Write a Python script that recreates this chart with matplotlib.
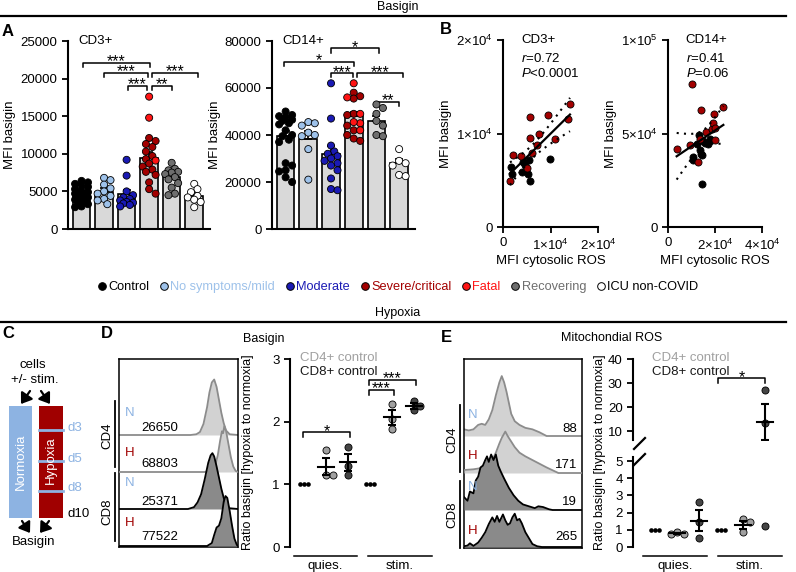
import numpy as np
import matplotlib
matplotlib.use('Agg')
import matplotlib.pyplot as plt
from matplotlib.lines import Line2D
from matplotlib.patches import Rectangle, FancyArrowPatch

plt.rcParams.update({
    'font.family': ['Liberation Sans', 'DejaVu Sans'],
    'font.size': 9,
    'mathtext.fontset': 'custom',
    'mathtext.rm': 'Liberation Sans',
    'mathtext.it': 'Liberation Sans:italic',
    'axes.linewidth': 1.5,
    'xtick.major.width': 1.3, 'ytick.major.width': 1.3,
    'xtick.major.size': 4, 'ytick.major.size': 4,
    'xtick.labelsize': 9.5, 'ytick.labelsize': 9.5,
})

# ---------------- data ----------------
group_names = ['Control', 'No symptoms/mild', 'Moderate', 'Severe/critical', 'Fatal', 'Recovering', 'ICU non-COVID']
group_colors = ['#000000', '#9ec2ea', '#1a1ab4', '#a30000', '#ff1414', '#6e6e6e', '#ffffff']
legend_text_colors = ['#000000', '#9ec2ea', '#1a1ab4', '#a30000', '#ff1414', '#6e6e6e', '#000000']

# Panel A, CD3+
cd3_control = [6400, 6200, 6000, 5800, 5600, 5300, 5100, 4900, 4700, 4600, 4400, 4200, 4100, 3900, 3700, 3500, 3300, 3000, 2900]
cd3_mild = [6800, 6500, 5900, 5400, 5000, 4700, 4400, 4000, 3800, 3300]
cd3_moderate = [9200, 7100, 5000, 4500, 4200, 4000, 3800, 3600, 3500, 3400, 3200, 3000]
cd3_severe = [12100, 11700, 11300, 10900, 10300, 9700, 9300, 8700, 8300, 7900, 7600, 7200, 6200, 5300, 4700]
cd3_fatal = [17600, 14800, 9100]
cd3_recovering = [8800, 8000, 7800, 7600, 7500, 7300, 6900, 6600, 6100, 5500, 4700, 4500]
cd3_icu = [6000, 5300, 4900, 4400, 4200, 3900, 3600, 2900]
cd3_bar_mean = [4650, 4950, 4600, 9400, 6900, 4400]
cd3_bar_sem = [250, 450, 600, 850, 400, 400]
cd3_sig = [(0.05, 3.05, 22100, '***'), (1.0, 2.97, 20800, '***'), (2.05, 2.92, 19000, '***'),
           (3.12, 4.0, 19000, '**'), (3.12, 5.15, 20800, '***')]

# Panel A, CD14+
cd14_control = [50000, 48500, 48000, 47500, 46500, 46000, 45000, 44500, 42000, 40000, 39500, 38000, 37000,
                28000, 27000, 25000, 24500, 22000, 20000]
cd14_mild = [45500, 45000, 44000, 41000, 40000, 39500, 34000, 21000]
cd14_moderate = [62000, 47000, 35500, 33000, 32000, 31000, 30000, 29000, 28000, 27000, 25000, 21500, 17000, 16500]
cd14_severe = [58000, 56500, 55500, 49000, 48500, 44000, 42000, 40000, 38500, 37500]
cd14_fatal = [62000, 56000, 49000, 45000, 42000, 45500]
cd14_recovering = [53000, 51500, 49000, 46000, 44000, 40000, 39500]
cd14_icu = [34000, 29000, 28000, 27000, 23000, 22500]
cd14_bar_mean = [39500, 38500, 31800, 48000, 46000, 28000]
cd14_bar_sem = [2000, 3000, 3500, 1800, 2200, 1600]
cd14_sig = [(-0.06, 3.0, 71200, '*'), (2.0, 4.1, 76900, '*'), (2.0, 2.97, 66300, '***'),
            (3.15, 5.16, 66300, '***'), (4.03, 5.0, 54200, '**')]

# Panel B, CD3+: cytosolic ROS vs basigin
b3_ros_control = [1680, 1960, 3930, 4140, 5470, 5190, 5680, 9890, 4630]
b3_bsg_control = [6420, 5710, 5890, 6950, 7130, 5710, 4900, 7270, 6600]
b3_ros_severe = [1470, 2180, 3720, 5120, 5680, 5680, 6040, 7230, 7650, 9540, 10950, 13750, 14100]
b3_bsg_severe = [4940, 7720, 7620, 6310, 11780, 9490, 7940, 8820, 9910, 12030, 9420, 11530, 13120]
# Panel B, CD14+
b14_ros_control = [10780, 12200, 13620, 13900, 14330, 15040, 15740, 17160, 17870, 14330, 10780, 13330]
b14_bsg_control = [37390, 44440, 40920, 39150, 38270, 46210, 44800, 44440, 47090, 22930, 35630, 49210]
b14_ros_severe = [3690, 10070, 9360, 13900, 12620, 16170, 13620, 18580, 19290, 19570, 20000, 23550, 20000]
b14_bsg_severe = [41800, 76540, 43920, 62430, 34740, 50620, 47090, 52380, 55380, 60670, 52730, 64370, 46560]

# Panel D: histograms (fluorescence 0-100 across box, normalised counts)
d_cd4_n_x = [0, 60, 65, 68, 71, 74, 76, 78, 80, 82, 84, 86, 88, 90, 93, 100]
d_cd4_n_h = [0, 0, 0.02, 0.08, 0.3, 0.75, 1.15, 1.42, 1.5, 1.3, 0.95, 0.6, 0.32, 0.12, 0.02, 0]
d_cd4_h_x = [0, 72, 78, 81, 83, 85, 86.5, 87.5, 88.5, 90, 92, 94, 96, 98, 100]
d_cd4_h_h = [0, 0, 0.05, 0.2, 0.45, 0.85, 1.1, 1.05, 1.24, 1.1, 0.75, 0.4, 0.15, 0.03, 0]
d_cd8_n_x = [0, 58, 63, 66, 69, 72, 75, 77, 78.5, 80, 82, 84, 86, 88, 90, 93, 100]
d_cd8_n_h = [0, 0, 0.05, 0.18, 0.4, 0.8, 1.25, 1.45, 1.51, 1.42, 1.15, 0.85, 0.55, 0.3, 0.12, 0.02, 0]
d_cd8_h_x = [0, 74, 78, 80, 82, 84, 86, 88, 89.5, 91, 93, 95, 97, 99, 100]
d_cd8_h_h = [0, 0, 0.08, 0.3, 0.5, 0.55, 0.75, 1.2, 1.35, 1.3, 0.95, 0.55, 0.2, 0.03, 0]
d_mfi = ['26650', '68803', '25371', '77522']

# Panel D: ratio basigin
d_control = [1, 1, 1]
d_cd4_quies = [1.55, 1.15, 1.15]
d_cd8_quies = [1.6, 1.3, 1.15]
d_cd4_stim = [2.28, 2.04, 1.88]
d_cd8_stim = [2.33, 2.25, 2.18]

# Panel E: histograms
e_cd4_n_x = [0, 4, 8, 12, 15, 18, 21, 24, 27, 30, 32, 34, 36, 38, 40, 43, 47, 52, 58, 64, 70, 100]
e_cd4_n_h = [0.18, 0.15, 0.18, 0.3, 0.33, 0.3, 0.45, 0.7, 1.1, 1.45, 1.62, 1.45, 1.2, 0.9, 0.6, 0.4, 0.3, 0.22, 0.18, 0.1, 0, 0]
e_cd4_h_x = [0, 8, 14, 20, 24, 27, 30, 32, 35, 37, 40, 43, 47, 52, 58, 64, 70, 76, 80, 100]
e_cd4_h_h = [0.08, 0.1, 0.13, 0.2, 0.35, 0.55, 0.8, 0.95, 1.12, 1.0, 0.85, 0.7, 0.55, 0.45, 0.35, 0.25, 0.15, 0.06, 0, 0]
e_cd8_n_x = [0, 3, 5, 8, 10, 12, 14, 16, 18, 19.5, 21, 23, 25, 27, 29, 31, 34, 38, 42, 46, 50, 55, 60, 63, 67, 72, 75, 100]
e_cd8_n_h = [0.35, 0.25, 0.5, 0.45, 0.8, 0.9, 1.15, 1.2, 1.35, 1.45, 1.3, 1.5, 1.35, 1.5, 1.2, 1.05, 0.85, 0.6,
             0.4, 0.25, 0.15, 0.1, 0.05, 0.1, 0.08, 0.02, 0, 0]
e_cd8_h_x = [0, 3, 5, 8, 12, 15, 18, 21, 24, 26, 28, 30, 33, 35, 37, 39, 41, 43, 45, 47, 49, 52, 55, 58, 62, 66, 100]
e_cd8_h_h = [0.02, 0.04, 0.1, 0.03, 0.12, 0.25, 0.4, 0.62, 0.8, 0.68, 0.84, 0.68, 0.88, 0.72, 0.6, 0.64, 0.8,
             0.9, 0.72, 0.76, 0.64, 0.4, 0.24, 0.08, 0.02, 0, 0]
e_mfi = ['88', '171', '19', '265']

# Panel E: ratio mitochondrial ROS
e_control = [1, 1, 1]
e_cd4_quies = [0.85, 0.76, 0.76]
e_cd8_quies = [2.6, 1.45, 0.5]
e_cd4_stim = [1.62, 1.45, 0.85]
e_cd8_stim = [27.0, 13.5, 1.2]

# ---------------- helpers ----------------
W, H = 796, 572
fig = plt.figure(figsize=(W / 100, H / 100), dpi=100)


def fbox(l, t, r, b):
    return [l / W, 1 - b / H, (r - l) / W, (b - t) / H]


def ft(x, y, s, **kw):
    kw.setdefault('ha', 'center')
    kw.setdefault('va', 'center')
    return fig.text(x / W, 1 - y / H, s, **kw)


def fline(xs, ys, **kw):
    fig.add_artist(Line2D([x / W for x in xs], [1 - y / H for y in ys], transform=fig.transFigure, **kw))


def farrow(x1, y1, x2, y2):
    fig.add_artist(FancyArrowPatch((x1 / W, 1 - y1 / H), (x2 / W, 1 - y2 / H), transform=fig.transFigure,
                                   arrowstyle='-|>,head_length=0.5,head_width=0.35', mutation_scale=12,
                                   lw=1.6, color='k', shrinkA=0, shrinkB=0))


def swarm(vals, ppy, ppx, d=6.5, maxoff=8.0):
    vals = np.asarray(vals, float)
    order = np.argsort(-vals, kind='stable')
    cands = [0.0]
    for k in range(1, 8):
        cands += [k * d * 0.5, -k * d * 0.5]
    cands = [c for c in cands if abs(c) <= maxoff]
    placed = []
    offs = np.zeros(len(vals))
    for i in order:
        y = vals[i] * ppy
        best, bestd = cands[0], -1
        for c in cands:
            md = min([np.hypot(c - px, y - py) for px, py in placed] + [1e9])
            if md >= d * 0.95:
                best = c
                break
            if md > bestd:
                best, bestd = c, md
        placed.append((best, y))
        offs[i] = best / ppx
    return offs


def bracket(ax, x1, x2, y, h, text, fs=11.5):
    ax.plot([x1, x1, x2, x2], [y - h, y, y, y - h], color='k', lw=1.1, clip_on=False)
    ax.annotate(text, ((x1 + x2) / 2, y), xytext=(0, -2.5), textcoords='offset points',
                ha='center', va='baseline', fontsize=fs, annotation_clip=False)


# ---------------- headers ----------------
ft(398, 7, 'Basigin', fontsize=9)
fline([0, 786], [16, 16], color='k', lw=1.6)
ft(398, 313, 'Hypoxia', fontsize=9)
fline([0, 786], [322, 322], color='k', lw=1.6)
for lab, x, y in [('A', 8, 31), ('B', 446, 30), ('C', 8, 334), ('D', 107, 334), ('E', 446, 337)]:
    ft(x, y, lab, fontsize=12, fontweight='bold')


# ---------------- panel A ----------------
def bar_panel(l, r, groups, means, sems, ymax, yticks, title, sig, hook):
    t, b = 41, 229
    ax = fig.add_axes(fbox(l, t, r, b))
    n = len(means)
    x = np.arange(n)
    ax.bar(x, means, width=0.78, color='#d9d9d9', edgecolor='k', linewidth=1.2, zorder=1)
    ax.errorbar(x, means, yerr=[np.zeros(n), sems], fmt='none', ecolor='k', elinewidth=1.2,
                capsize=3, capthick=1.2, zorder=2)
    ppy = (b - t) / ymax
    for i, grp in enumerate(groups):
        vals = np.concatenate([np.asarray(v, float) for v, c in grp])
        cols = sum([[c] * len(v) for v, c in grp], [])
        offs = swarm(vals, ppy, 22.7, maxoff=7.5)
        ax.scatter(i + offs, vals, s=26, c=cols, edgecolors='k', linewidths=0.6, zorder=3, clip_on=False)
    ax.set_xlim(-0.6, 5.7)
    ax.set_ylim(0, ymax)
    ax.set_yticks(yticks)
    ax.set_yticklabels([str(v) for v in yticks])
    ax.tick_params(axis='x', length=0, labelbottom=False)
    for s in ['top', 'right']:
        ax.spines[s].set_visible(False)
    ax.set_ylabel('MFI basigin', fontsize=9.5, labelpad=3)
    ax.text(0.07, 1.0, title, transform=ax.transAxes, ha='left', va='center', fontsize=9.5)
    for x1, x2, y, s in sig:
        bracket(ax, x1, x2, y, hook, s)
    return ax


bar_panel(68, 210,
          [[(cd3_control, group_colors[0])], [(cd3_mild, group_colors[1])], [(cd3_moderate, group_colors[2])],
           [(cd3_severe, group_colors[3]), (cd3_fatal, group_colors[4])], [(cd3_recovering, group_colors[5])],
           [(cd3_icu, group_colors[6])]],
          cd3_bar_mean, cd3_bar_sem, 25000, [0, 5000, 10000, 15000, 20000, 25000], 'CD3+', cd3_sig, 550)
bar_panel(272, 415,
          [[(cd14_control, group_colors[0])], [(cd14_mild, group_colors[1])], [(cd14_moderate, group_colors[2])],
           [(cd14_severe, group_colors[3]), (cd14_fatal, group_colors[4])], [(cd14_recovering, group_colors[5])],
           [(cd14_icu, group_colors[6])]],
          cd14_bar_mean, cd14_bar_sem, 80000, [0, 20000, 40000, 60000, 80000], 'CD14+', cd14_sig, 1800)


# ---------------- panel B ----------------
def scatter_panel(l, r, xc, yc, xs, ys, xmax, ymax, xticks, xtl, yticks, ytl, title, rtxt, ptxt):
    ax = fig.add_axes(fbox(l, 40, r, 227))
    ax.set_xlim(0, xmax)
    ax.set_ylim(0, ymax)
    ax.scatter(xc, yc, s=26, c='k', edgecolors='k', linewidths=0.6, zorder=3, clip_on=False)
    ax.scatter(xs, ys, s=26, c=group_colors[3], edgecolors='k', linewidths=0.6, zorder=3, clip_on=False)
    X = np.array(list(xc) + list(xs), float)
    Y = np.array(list(yc) + list(ys), float)
    k, c0 = np.polyfit(X, Y, 1)
    n = len(X)
    resid = Y - (k * X + c0)
    s_err = np.sqrt(np.sum(resid ** 2) / (n - 2))
    xg = np.linspace(X.min(), X.max(), 60)
    se = s_err * np.sqrt(1 / n + (xg - X.mean()) ** 2 / np.sum((X - X.mean()) ** 2))
    ax.plot(xg, k * xg + c0, color='k', lw=1.6, zorder=4)
    ax.plot(xg, k * xg + c0 + 2.05 * se, color='k', lw=1.5, ls=(0, (1, 2.5)), zorder=4)
    ax.plot(xg, k * xg + c0 - 2.05 * se, color='k', lw=1.5, ls=(0, (1, 2.5)), zorder=4)
    ax.set_xticks(xticks)
    ax.set_xticklabels(xtl)
    ax.set_yticks(yticks)
    ax.set_yticklabels(ytl)
    for s in ['top', 'right']:
        ax.spines[s].set_visible(False)
    ax.set_ylabel('MFI basigin', fontsize=9.5, labelpad=3)
    ax.set_xlabel('MFI cytosolic ROS', fontsize=9.5, labelpad=2)
    ax.text(0.19, 1.0, title, transform=ax.transAxes, ha='left', va='center', fontsize=9.5)
    ax.text(0.19, 0.9, rtxt, transform=ax.transAxes, ha='left', va='center', fontsize=9.5)
    ax.text(0.19, 0.82, ptxt, transform=ax.transAxes, ha='left', va='center', fontsize=9.5)
    return ax


scatter_panel(503, 598, b3_ros_control, b3_bsg_control, b3_ros_severe, b3_bsg_severe, 20000, 20000,
              [0, 10000, 20000], ['0', '1×10$^{4}$', '2×10$^{4}$'],
              [0, 10000, 20000], ['0', '1×10$^{4}$', '2×10$^{4}$'], 'CD3+', '$r$=0.72', '$P$<0.0001')
scatter_panel(668, 762, b14_ros_control, b14_bsg_control, b14_ros_severe, b14_bsg_severe, 40000, 100000,
              [0, 20000, 40000], ['0', '2×10$^{4}$', '4×10$^{4}$'],
              [0, 50000, 100000], ['0', '5×10$^{4}$', '1×10$^{5}$'], 'CD14+', '$r$=0.41', '$P$=0.06')

# legend row
handles = [Line2D([], [], marker='o', ls='', markerfacecolor=c, markeredgecolor='k', markeredgewidth=0.7,
                  markersize=5.5) for c in group_colors]
fig.legend(handles, group_names, loc='center', bbox_to_anchor=(398 / W, 1 - 287 / H), ncol=7, frameon=False,
           fontsize=9.2, handlelength=0.7, handletextpad=0.15, columnspacing=0.8,
           labelcolor=legend_text_colors, borderpad=0, borderaxespad=0)

# ---------------- panel C ----------------
blue_c, red_c = '#8db3e2', '#a00000'
ft(33, 365, 'cells', fontsize=9.5)
ft(35, 380, '+/- stim.', fontsize=9.5)
farrow(30, 391, 21, 404)
farrow(41, 391, 50, 404)
fig.add_artist(Rectangle((9.3 / W, 1 - 518 / H), 23 / W, 112 / H, transform=fig.transFigure, color=blue_c, lw=0))
fig.add_artist(Rectangle((39.3 / W, 1 - 518 / H), 23.4 / W, 112 / H, transform=fig.transFigure, color=red_c, lw=0))
for y in [430, 461, 491]:
    fline([39.3, 62.7], [y, y], color=blue_c, lw=2)
ft(21, 462, 'Normoxia', rotation=90, color='white', fontsize=9.5)
ft(51, 460, 'Hypoxia', rotation=90, color='white', fontsize=9.5)
for lab, y, c in [('d3', 428, blue_c), ('d5', 459, blue_c), ('d8', 488, blue_c), ('d10', 514, 'k')]:
    ft(67, y, lab, ha='left', color=c, fontsize=9.5)
farrow(22, 521, 30, 533)
farrow(49, 521, 40, 533)
ft(34, 542, 'Basigin', fontsize=9.5)


# ---------------- histograms (D, E) ----------------
def hist_panel(l, t, r, b, curves, texts_n, texts_v, num_x, num_ha, nh_x):
    ax = fig.add_axes(fbox(l, t, r, b))
    ppu = 37.0
    ax.set_xlim(0, 100)
    ax.set_ylim(-1 / ppu, (b - 1 - t) / ppu)
    ax.set_xticks([])
    ax.set_yticks([])
    for s in ax.spines.values():
        s.set_linewidth(1.1)
    for z, (base, xs, hs, fc, ec) in enumerate(curves):
        xs = np.asarray(xs, float)
        hs = np.asarray(hs, float)
        ax.fill_between(xs, base, base + hs, color=fc, lw=0, zorder=2 + z)
        ax.plot(xs, base + hs, color=ec, lw=1.3, zorder=2.5 + z)
    for (base, txt, col, dy) in texts_n:
        ax.text(nh_x, base + dy, txt, color=col, ha='left', va='center', fontsize=9.5, zorder=10)
    for (base, txt, dy) in texts_v:
        ax.text(num_x, base + dy, txt, color='k', ha=num_ha, va='center', fontsize=9.5, zorder=10)
    return ax


light_fill, light_edge = '#d2d2d2', '#8c8c8c'
dark_fill, dark_edge = '#8a8a8a', '#000000'
hist_panel(119, 359, 238, 547,
           [(3, d_cd4_n_x, d_cd4_n_h, light_fill, light_edge), (2, d_cd4_h_x, d_cd4_h_h, light_fill, light_edge),
            (1, d_cd8_n_x, d_cd8_n_h, dark_fill, dark_edge), (0, d_cd8_h_x, d_cd8_h_h, dark_fill, dark_edge)],
           [(3, 'N', blue_c, 0.6), (2, 'H', red_c, 0.51), (1, 'N', blue_c, 0.7), (0, 'H', red_c, 0.62)],
           [(3, d_mfi[0], 0.2), (2, d_mfi[1], 0.22), (1, d_mfi[2], 0.19), (0, d_mfi[3], 0.24)],
           34, 'center', 5)
hist_panel(464, 359, 582, 548,
           [(3, e_cd4_n_x, e_cd4_n_h, light_fill, light_edge), (2, e_cd4_h_x, e_cd4_h_h, light_fill, light_edge),
            (1, e_cd8_n_x, e_cd8_n_h, dark_fill, dark_edge), (0, e_cd8_h_x, e_cd8_h_h, dark_fill, dark_edge)],
           [(3, 'N', blue_c, 0.57), (2, 'H', red_c, 0.46), (1, 'N', blue_c, 0.62), (0, 'H', red_c, 0.43)],
           [(3, e_mfi[0], 0.18), (2, e_mfi[1], 0.22), (1, e_mfi[2], 0.22), (0, e_mfi[3], 0.27)],
           96, 'right', 3)
# side brackets CD4 / CD8
fline([115, 115], [401, 467], color='k', lw=1.3)
fline([115, 115], [473, 541], color='k', lw=1.3)
ft(107, 436, 'CD4', rotation=90, fontsize=9.5)
ft(107, 512, 'CD8', rotation=90, fontsize=9.5)
fline([460, 460], [405, 472], color='k', lw=1.3)
fline([460, 460], [481, 548], color='k', lw=1.3)
ft(452, 440, 'CD4', rotation=90, fontsize=9.5)
ft(452, 515, 'CD8', rotation=90, fontsize=9.5)
ft(264, 339, 'Basigin', fontsize=9)
ft(612, 338, 'Mitochondial ROS', fontsize=9)

# ---------------- ratio panels (D, E) ----------------
cd4_col, cd8_col = '#a0a0a0', '#454545'


def ratio_group(axs, x, vals, color, ppy):
    vals = np.asarray(vals, float)
    offs = swarm(vals, ppy, 22.0, d=6.5, maxoff=7)
    m = vals.mean()
    se = vals.std(ddof=1) / np.sqrt(len(vals))
    for ax in axs:
        ax.scatter(x + offs, vals, s=26, c=color, edgecolors='k', linewidths=0.6, zorder=3)
        ax.plot([x - 0.38, x + 0.38], [m, m], color='k', lw=1.5, zorder=4)
        ax.errorbar(x, m, yerr=se, fmt='none', ecolor='k', elinewidth=1.5, capsize=3.2, capthick=1.5, zorder=4)


def control_dots(axs, x, vals):
    for ax in axs:
        ax.scatter([x - 0.2, x, x + 0.2], vals, s=11, c='k', lw=0, zorder=3)


def style_ratio(ax, yticks):
    for s in ['top', 'right', 'bottom']:
        ax.spines[s].set_visible(False)
    ax.tick_params(axis='x', length=0, labelbottom=False)
    ax.set_yticks(yticks)
    ax.set_yticklabels([str(v) for v in yticks])


# D
axd = fig.add_axes(fbox(290, 359, 432, 547))
axd.set_xlim(-0.64, 5.82)
axd.set_ylim(0, 3)
style_ratio(axd, [0, 1, 2, 3])
ppy_d = 188 / 3
control_dots([axd], 0, d_control)
ratio_group([axd], 1, d_cd4_quies, cd4_col, ppy_d)
ratio_group([axd], 2, d_cd8_quies, cd8_col, ppy_d)
control_dots([axd], 3, d_control)
ratio_group([axd], 4, d_cd4_stim, cd4_col, ppy_d)
ratio_group([axd], 5, d_cd8_stim, cd8_col, ppy_d)
bracket(axd, -0.05, 2.1, 1.83, 0.08, '*')
bracket(axd, 2.95, 4.1, 2.51, 0.08, '***')
bracket(axd, 2.95, 5.1, 2.67, 0.08, '***')
trd = axd.get_xaxis_transform()
for x1, x2, lab in [(-0.45, 2.4, 'quies.'), (2.9, 5.82, 'stim.')]:
    axd.plot([x1, x2], [-0.048, -0.048], color='k', lw=1.1, transform=trd, clip_on=False)
    axd.text((x1 + x2) / 2, -0.1, lab, transform=trd, ha='center', va='center', fontsize=9.5)
ft(248, 452, 'Ratio basigin [hypoxia to normoxia]', rotation=90, fontsize=9)
ft(300, 358, 'CD4+ control', ha='left', color='#a0a0a0', fontsize=9.5)
ft(300, 372, 'CD8+ control', ha='left', color='#1a1a1a', fontsize=9.5)

# E (broken axis)
axu = fig.add_axes(fbox(633, 359, 782, 440))
axl = fig.add_axes(fbox(633, 457, 782, 547))
for ax in (axu, axl):
    ax.set_xlim(-1.0, 5.77)
axu.set_ylim(40 - 81 / 2.4, 40)
axl.set_ylim(0, 90 / 17.2)
style_ratio(axu, [10, 20, 30, 40])
style_ratio(axl, [0, 1, 2, 3, 4, 5])
ppy_e = 17.2
control_dots([axu, axl], 0, e_control)
ratio_group([axu, axl], 1, e_cd4_quies, cd4_col, ppy_e)
ratio_group([axu, axl], 2, e_cd8_quies, cd8_col, ppy_e)
control_dots([axu, axl], 3, e_control)
ratio_group([axu, axl], 4, e_cd4_stim, cd4_col, ppy_e)
ratio_group([axu, axl], 5, e_cd8_stim, cd8_col, ppy_e)
bracket(axu, 2.86, 5.0, 32, 2, '*')
fline([634, 645], [449, 438], color='k', lw=1.6)
fline([634, 645], [465, 454], color='k', lw=1.6)
tre = axl.get_xaxis_transform()
for x1, x2, lab in [(-0.55, 2.36, 'quies.'), (2.86, 5.77, 'stim.')]:
    axl.plot([x1, x2], [-0.1, -0.1], color='k', lw=1.1, transform=tre, clip_on=False)
    axl.text((x1 + x2) / 2, -0.21, lab, transform=tre, ha='center', va='center', fontsize=9.5)
ft(600, 452, 'Ratio basigin [hypoxia to normoxia]', rotation=90, fontsize=9)
ft(652, 358, 'CD4+ control', ha='left', color='#a0a0a0', fontsize=9.5)
ft(652, 372, 'CD8+ control', ha='left', color='#1a1a1a', fontsize=9.5)

fig.savefig('out.png', dpi=100)
